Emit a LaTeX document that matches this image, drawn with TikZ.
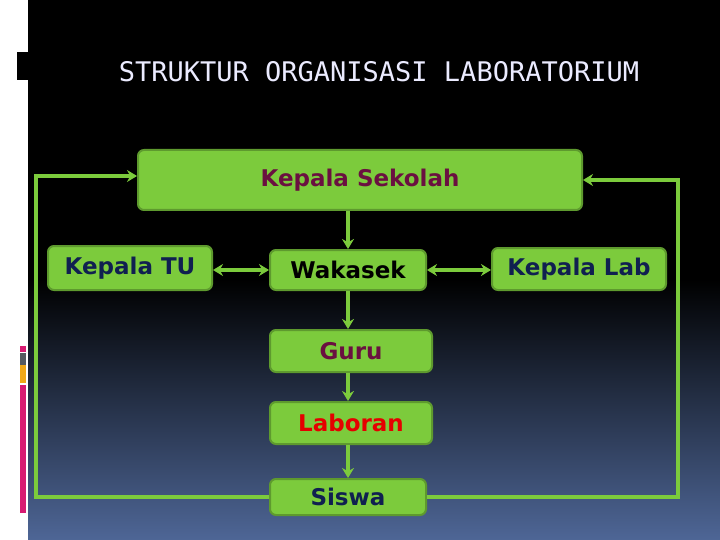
\documentclass[tikz,border=0pt]{standalone}
\usepackage{fontspec}
\setmainfont{DejaVu Sans}
\newfontfamily\titlefont{DejaVu Sans Mono}
\usetikzlibrary{arrows.meta}
\definecolor{gfill}{HTML}{7CCB3C}
\definecolor{gedge}{HTML}{5E9A2E}
\definecolor{maroon}{HTML}{6A1040}
\definecolor{navy}{HTML}{102050}
\definecolor{bluebot}{HTML}{4E6696}
\definecolor{magbar}{HTML}{D81B72}
\definecolor{graybar}{HTML}{555A60}
\definecolor{orbar}{HTML}{F0A818}
\begin{document}
\begin{tikzpicture}[x=1pt,y=-1pt,
  box/.style={draw=gedge,line width=2pt,fill=gfill,rounded corners=6pt,inner sep=0pt,font=\bfseries\fontsize{23}{26}\selectfont},
  conn/.style={draw=gfill,line width=3.2pt},
  arr/.style={conn,-{Stealth[length=10pt,width=12pt]}},
  darr/.style={conn,{Stealth[length=10pt,width=12pt]}-{Stealth[length=10pt,width=12pt]}}]
\useasboundingbox (0,0) rectangle (720,540);
\fill[black] (28,0) rectangle (720,280);
\shade[top color=black,bottom color=bluebot] (28,279) rectangle (720,540);
\fill[white] (0,0) rectangle (28,540);
\fill[black] (17,52) rectangle (28,80);
\fill[magbar] (20,346) rectangle (26,352);
\fill[graybar] (20,353) rectangle (26,365);
\fill[orbar] (20,365) rectangle (26,383);
\fill[magbar] (20,385) rectangle (26,513);
\node[text=white!92!blue,font=\titlefont\fontsize{27}{30}\selectfont] (title) at (379,72) {STRUKTUR ORGANISASI LABORATORIUM};
\node[box,minimum width=444pt,minimum height=60pt,text=maroon] (ks) at (360,180) {Kepala Sekolah};
\node[box,minimum width=164pt,minimum height=44pt,text=navy] (tu) at (130,268) {Kepala TU};
\node[box,minimum width=156pt,minimum height=40pt,text=black] (wk) at (348,270) {Wakasek};
\node[box,minimum width=174pt,minimum height=42pt,text=navy] (lab) at (579,269) {Kepala Lab};
\node[box,minimum width=162pt,minimum height=42pt,text=maroon] (guru) at (351,351) {Guru};
\node[box,minimum width=162pt,minimum height=42pt,text=red!90!black] (lbr) at (351,423) {Laboran};
\node[box,minimum width=156pt,minimum height=36pt,text=navy] (sis) at (348,497) {Siswa};
\coordinate (l1) at (36,497);
\coordinate (l2) at (36,176);
\coordinate (r1) at (678,497);
\coordinate (r2) at (678,180);
\draw[arr] (sis.west) -- (l1) -- (l2) -- (ks.west |- l2);
\draw[arr] (sis.east) -- (r1) -- (r2) -- (ks.east |- r2);
\draw[arr] (ks.south -| wk.north) -- (wk.north);
\draw[darr] (tu.east |- wk.west) -- (wk.west);
\draw[darr] (wk.east) -- (lab.west |- wk.east);
\draw[arr] (wk.south) -- (wk.south |- guru.north);
\draw[arr] (wk.south |- guru.south) -- (wk.south |- lbr.north);
\draw[arr] (wk.south |- lbr.south) -- (sis.north);
\end{tikzpicture}
\end{document}
